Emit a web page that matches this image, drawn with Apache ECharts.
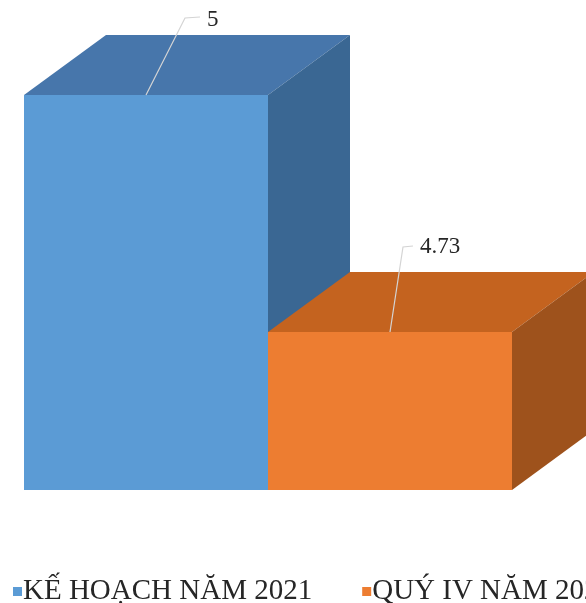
<!DOCTYPE html>
<html><head><meta charset="utf-8">
<script src="https://cdn.jsdelivr.net/npm/echarts@6/dist/echarts.min.js"></script>
<style>html,body{margin:0;padding:0;background:#fff}#c{width:586px;height:603px}</style>
</head><body><div id="c"></div>
<script>
const categories = ['KẾ HOẠCH NĂM 2021', 'QUÝ IV NĂM 2021'];
const seriesNames = ['KẾ HOẠCH NĂM 2021', 'QUÝ IV NĂM 2021'];
const seriesValues = [5, 4.73];
const valueLabels = ['5', '4.73'];
const axisMin = 4.55;
const axisMax = 5;

const palettes = [
  {front: '#5B9BD5', top: '#4776AB', side: '#3A6793'},
  {front: '#ED7D31', top: '#C4631F', side: '#9E521C'}
];
// leader line geometry per label (styling, relative to bar top centre)
const leaders = [
  {dx1: 39, dy1: -77, dx2: 54, ty: -75},
  {dx1: 13, dy1: -85, dx2: 23, ty: -85}
];
const DX = 82, DY = -60;

function makeRender(si) {
  return function (params, api) {
    const cat = api.value(0), val = api.value(1);
    const top = api.coord([cat, val]);
    const base = api.coord([cat, axisMin]);
    const w = api.size([1, 0])[0];
    const x0 = top[0] - w / 2, x1 = top[0] + w / 2;
    const yt = top[1], yb = base[1];
    const p = palettes[si];
    const L = leaders[si];
    const cx = top[0];
    return {
      type: 'group',
      children: [
        {type: 'rect', shape: {x: x0, y: yt, width: w, height: yb - yt}, style: {fill: p.front}},
        {type: 'polygon', shape: {points: [[x0, yt], [x0 + DX, yt + DY], [x1 + DX, yt + DY], [x1, yt]]}, style: {fill: p.top}},
        {type: 'polygon', shape: {points: [[x1, yt], [x1 + DX, yt + DY], [x1 + DX, yb + DY], [x1, yb]]}, style: {fill: p.side}},
        {type: 'polyline', shape: {points: [[cx, yt], [cx + L.dx1, yt + L.dy1], [cx + L.dx2, yt + L.dy1 - 1]]}, style: {stroke: '#d4d4d4', lineWidth: 1.2, fill: null}},
        {type: 'text', x: cx + L.dx2 + 7, y: yt + L.ty, style: {text: valueLabels[si], fill: '#262626', font: '23px "Liberation Serif"', verticalAlign: 'middle', align: 'left'}}
      ]
    };
  };
}

const chart = echarts.init(document.getElementById('c'));
chart.setOption({
  animation: false,
  grid: {left: 24, right: 74, top: 95, bottom: 113},
  xAxis: {type: 'category', data: categories, show: false},
  yAxis: {type: 'value', min: axisMin, max: axisMax, show: false},
  legend: {
    left: 8, top: 572, width: 1400,
    icon: 'rect', itemWidth: 9, itemHeight: 9, itemGap: 50,
    textStyle: {fontFamily: 'Liberation Serif', fontSize: 29, color: '#262626', padding: [0, 0, 0, -4]},
    data: seriesNames
  },
  series: seriesNames.map((name, i) => ({
    type: 'custom',
    name: name,
    renderItem: makeRender(i),
    itemStyle: {color: palettes[i].front},
    data: [[i, seriesValues[i]]],
    encode: {x: 0, y: 1}
  }))
});
</script></body></html>
